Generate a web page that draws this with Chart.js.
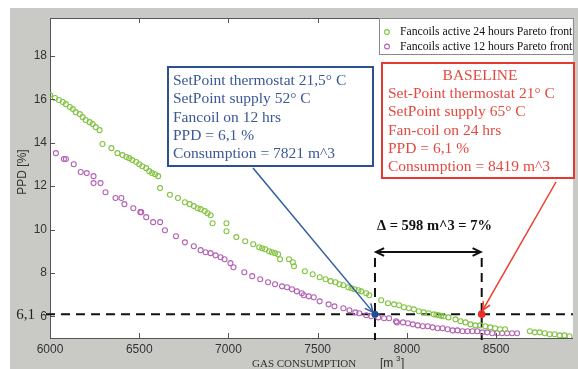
<!DOCTYPE html>
<html>
<head>
<meta charset="utf-8">
<script src="https://cdn.jsdelivr.net/npm/chart.js@4.4.1/dist/chart.umd.min.js"></script>
<style>
  html, body { margin: 0; padding: 0; background: #fff; }
  #wrap { position: relative; width: 578px; height: 369px; }
</style>
</head>
<body>
<div id="wrap"><canvas id="ppd-chart" width="578" height="369"></canvas></div>
<script>
// Pareto fronts, PPD [%] against gas consumption [m3]
const xTicks = [6000, 6500, 7000, 7500, 8000, 8500];
const yTicks = [6, 8, 10, 12, 14, 16, 18];

const gas24 = [6000, 6028, 6050, 6072, 6089, 6111, 6128, 6144, 6167, 6183, 6200, 6222, 6239, 6256, 6278,
  6294, 6344, 6378, 6406, 6428, 6444, 6461, 6483, 6500, 6517, 6539, 6556, 6572, 6589, 6606,
  6617, 6672, 6717, 6756, 6783, 6806, 6828, 6844, 6867, 6883, 6900,
  6911, 6989, 6989, 7044, 7094, 7139, 7172, 7189, 7206, 7228, 7244, 7261, 7278,
  7289, 7339, 7361, 7367, 7428, 7472, 7511, 7544, 7572, 7600, 7622, 7644, 7672, 7689, 7706, 7728, 7744, 7772, 7789,
  7856, 7894, 7928, 7956, 7983, 8011, 8039, 8067, 8094, 8122, 8150, 8165, 8178, 8192, 8206, 8233,
  8272, 8300, 8328, 8356, 8383, 8411, 8439, 8467, 8494, 8522, 8550,
  8689, 8717, 8744, 8772, 8800, 8828, 8856, 8883, 8911];
const ppd24 = [16.2, 16.06, 15.97, 15.88, 15.78, 15.65, 15.55, 15.41, 15.32, 15.18, 15.05, 14.95, 14.86, 14.72, 14.58,
  13.94, 13.75, 13.52, 13.43, 13.34, 13.29, 13.2, 13.11, 13.01, 12.92, 12.83, 12.69, 12.6, 12.55, 12.46,
  11.91, 11.6, 11.45, 11.26, 11.17, 11.08, 10.98, 10.94, 10.85, 10.75, 10.66,
  10.29, 10.29, 9.92, 9.65, 9.46, 9.32, 9.18, 9.14, 9.09, 9.0, 8.95, 8.91, 8.86,
  8.63, 8.63, 8.49, 8.31, 8.08, 7.94, 7.8, 7.71, 7.62, 7.57, 7.48, 7.43, 7.34, 7.29, 7.25, 7.2, 7.15, 7.06, 6.97,
  6.74, 6.6, 6.55, 6.51, 6.42, 6.37, 6.32, 6.23, 6.18, 6.14, 6.09, 6.07, 6.05, 6.02, 6.0, 5.95,
  5.86, 5.77, 5.72, 5.63, 5.58, 5.58, 5.54, 5.49, 5.45, 5.4, 5.4,
  5.31, 5.26, 5.26, 5.22, 5.17, 5.17, 5.12, 5.12, 5.08];

const gas12 = [6033, 6078, 6089, 6133, 6172, 6206, 6244, 6244, 6283, 6311,
  6367, 6400, 6417, 6467, 6506, 6511, 6539, 6578, 6617, 6644,
  6706, 6756, 6806, 6844, 6872, 6900, 6928, 6956, 6978, 7011,
  7028, 7089, 7133, 7178, 7222, 7261, 7300, 7328, 7356, 7383,
  7411, 7422, 7450, 7478, 7511, 7561, 7594, 7644, 7678, 7711,
  7733, 7772, 7800, 7839, 7872, 7900, 7939, 7944, 7978, 8006,
  8033, 8061, 8089, 8117, 8144, 8172, 8200, 8228, 8256, 8283,
  8311, 8339, 8367, 8394, 8422, 8450, 8478, 8506, 8533, 8561, 8589, 8617];
const ppd12 = [13.52, 13.25, 13.25, 13.01, 12.65, 12.6, 12.46, 12.14, 12.14, 11.72,
  11.45, 11.45, 11.17, 10.98, 10.8, 10.8, 10.57, 10.34, 10.34, 9.97,
  9.69, 9.41, 9.23, 9.05, 8.95, 8.91, 8.81, 8.72, 8.63, 8.45,
  8.26, 8.03, 7.85, 7.71, 7.57, 7.48, 7.38, 7.34, 7.25, 7.15,
  7.06, 6.97, 6.92, 6.88, 6.69, 6.55, 6.46, 6.37, 6.28, 6.18,
  6.14, 6.05, 6.0, 5.95, 5.91, 5.91, 5.77, 5.72, 5.72, 5.68,
  5.63, 5.58, 5.54, 5.54, 5.49, 5.45, 5.45, 5.4, 5.35, 5.35,
  5.31, 5.31, 5.31, 5.31, 5.26, 5.26, 5.22, 5.22, 5.22, 5.22, 5.22, 5.22];

const optimum = { gas: 7821, ppd: 6.1 };
const baseline = { gas: 8419, ppd: 6.1 };
const seriesNames = ['Fancoils active 24 hours Pareto front', 'Fancoils active 12 hours Pareto front'];
const blueLines = ['SetPoint thermostat 21,5\u00b0 C', 'SetPoint supply 52\u00b0 C', 'Fancoil on 12 hrs', 'PPD = 6,1 %', 'Consumption = 7821 m^3'];
const redTitle = 'BASELINE';
const redLines = ['Set-Point thermostat 21\u00b0 C', 'SetPoint supply 65\u00b0 C', 'Fan-coil on 24 hrs', 'PPD = 6,1 %', 'Consumption = 8419 m^3'];
const deltaText = '\u0394 = 598 m^3 = 7%';

const GREEN = '#82c341';
const MAGENTA = '#b461b4';
const BLUE = '#2c5090';
const RED = '#e63a30';
const GRAY = '#c9c9c5';
const SERIF = '"Liberation Serif", "Times New Roman", serif';

const toPts = (xs, ys) => xs.map((x, i) => ({ x, y: ys[i] }));

function chevron(ctx, x, y, ang, size) {
  ctx.beginPath();
  ctx.moveTo(x - size * Math.cos(ang - 0.45), y - size * Math.sin(ang - 0.45));
  ctx.lineTo(x, y);
  ctx.lineTo(x - size * Math.cos(ang + 0.45), y - size * Math.sin(ang + 0.45));
  ctx.stroke();
}

function arrow(ctx, x1, y1, x2, y2, color, w) {
  ctx.save();
  ctx.strokeStyle = color;
  ctx.lineWidth = w;
  ctx.beginPath();
  ctx.moveTo(x1, y1);
  ctx.lineTo(x2, y2);
  ctx.stroke();
  chevron(ctx, x2, y2, Math.atan2(y2 - y1, x2 - x1), 9);
  ctx.restore();
}

const figure = {
  id: 'figure',
  beforeDraw(chart) {
    const { ctx, chartArea: a } = chart;
    ctx.save();
    ctx.fillStyle = '#fff';
    ctx.fillRect(0, 0, chart.width, chart.height);
    ctx.fillStyle = GRAY;
    ctx.fillRect(10, 8, chart.width - 10, chart.height - 8);
    ctx.fillStyle = '#fff';
    ctx.fillRect(a.left, a.top, a.right - a.left, a.bottom - a.top);
    ctx.restore();
  },
  beforeDatasetsDraw(chart) {
    const { ctx, chartArea: a, scales } = chart;
    const yRef = scales.y.getPixelForValue(optimum.ppd);
    const xo = scales.x.getPixelForValue(optimum.gas);
    const xb = scales.x.getPixelForValue(baseline.gas);
    ctx.save();
    ctx.strokeStyle = '#111';
    ctx.lineWidth = 2;
    ctx.setLineDash([9, 6]);
    ctx.beginPath();
    ctx.moveTo(a.left - 4, yRef);
    ctx.lineTo(a.right, yRef);
    ctx.stroke();
    [xo, xb].forEach((x) => {
      ctx.beginPath();
      ctx.moveTo(x, 258);
      ctx.lineTo(x, a.bottom + 2);
      ctx.stroke();
    });
    ctx.restore();
  },
  afterDatasetsDraw(chart) {
    const { ctx, chartArea: a, scales } = chart;
    const x = scales.x, y = scales.y;
    ctx.save();
    // frame and inward ticks
    ctx.strokeStyle = '#555';
    ctx.lineWidth = 1;
    ctx.beginPath();
    ctx.moveTo(a.left, a.top + 0.5);
    ctx.lineTo(a.right, a.top + 0.5);
    xTicks.forEach((v) => {
      const px = Math.round(x.getPixelForValue(v)) + 0.5;
      ctx.moveTo(px, a.bottom); ctx.lineTo(px, a.bottom - 5);
      ctx.moveTo(px, a.top); ctx.lineTo(px, a.top + 5);
    });
    yTicks.forEach((v) => {
      const py = Math.round(y.getPixelForValue(v)) + 0.5;
      ctx.moveTo(a.left, py); ctx.lineTo(a.left + 5, py);
    });
    ctx.stroke();

    // legend
    ctx.fillStyle = '#fff';
    ctx.fillRect(379, a.top + 1, a.right - 379, 36);
    ctx.strokeStyle = '#8a8a8a';
    ctx.strokeRect(379.5, a.top + 0.5, a.right - 379, 36);
    ctx.lineWidth = 1.1;
    [GREEN, MAGENTA].forEach((c, i) => {
      ctx.strokeStyle = c;
      ctx.beginPath();
      ctx.arc(387, 32 + i * 14.5, 2.4, 0, Math.PI * 2);
      ctx.stroke();
    });
    ctx.fillStyle = '#111';
    ctx.font = '11.7px ' + SERIF;
    ctx.textBaseline = 'middle';
    ctx.textAlign = 'left';
    seriesNames.forEach((t, i) => ctx.fillText(t, 400, 32 + i * 14.5));

    // blue annotation
    ctx.lineWidth = 2;
    ctx.strokeStyle = BLUE;
    ctx.fillStyle = '#fff';
    ctx.fillRect(168, 67, 205, 99);
    ctx.strokeRect(168, 67, 205, 99);
    ctx.fillStyle = '#3a5896';
    ctx.font = '15.5px ' + SERIF;
    blueLines.forEach((t, i) => ctx.fillText(t, 173, 81 + i * 18.3));

    // red annotation
    ctx.strokeStyle = RED;
    ctx.fillStyle = '#fff';
    ctx.fillRect(382, 63, 192, 115);
    ctx.strokeRect(382, 63, 192, 115);
    ctx.fillStyle = '#e5483f';
    ctx.textAlign = 'center';
    ctx.fillText(redTitle, 480, 76);
    ctx.textAlign = 'left';
    redLines.forEach((t, i) => ctx.fillText(t, 388, 94 + i * 18.3));

    const xo = x.getPixelForValue(optimum.gas);
    const xb = x.getPixelForValue(baseline.gas);
    const yRef = y.getPixelForValue(optimum.ppd);
    arrow(ctx, 253, 168, xo - 2, yRef - 2, '#2d5ca0', 1.5);
    arrow(ctx, 556, 182, xb + 1, yRef - 4, '#ee3a2e', 1.5);

    // delta span
    ctx.strokeStyle = '#111';
    ctx.lineWidth = 2;
    ctx.beginPath();
    ctx.moveTo(xo + 1, 252);
    ctx.lineTo(xb - 1, 252);
    ctx.stroke();
    chevron(ctx, xo + 1, 252, Math.PI, 9);
    chevron(ctx, xb - 1, 252, 0, 9);
    ctx.fillStyle = '#111';
    ctx.font = 'bold 14.5px ' + SERIF;
    ctx.fillText(deltaText, 377, 226);

    // axis texts
    ctx.font = '15px ' + SERIF;
    ctx.textAlign = 'right';
    ctx.fillStyle = '#222';
    ctx.fillText('6,1', 35, 315);
    ctx.font = '11px ' + SERIF;
    ctx.textAlign = 'left';
    ctx.fillStyle = '#333';
    ctx.fillText('GAS CONSUMPTION', 252, 364);
    ctx.font = '12px "Liberation Sans", Arial, sans-serif';
    ctx.fillText('[m', 380, 364);
    ctx.font = '8px "Liberation Sans", Arial, sans-serif';
    ctx.fillText('3', 396, 359);
    ctx.font = '12px "Liberation Sans", Arial, sans-serif';
    ctx.fillText(']', 401, 364);
    ctx.translate(23, 172);
    ctx.rotate(-Math.PI / 2);
    ctx.textAlign = 'center';
    ctx.fillText('PPD [%]', 0, 0);
    ctx.restore();
  }
};

Chart.defaults.font.family = '"Liberation Sans", Arial, sans-serif';
Chart.defaults.font.size = 12;
Chart.defaults.color = '#333';

new Chart(document.getElementById('ppd-chart'), {
  type: 'scatter',
  data: {
    datasets: [
      { label: 'optimum', data: [{ x: optimum.gas, y: optimum.ppd }], pointRadius: 3.5, backgroundColor: '#1f4e8c', borderColor: '#1f4e8c', borderWidth: 0 },
      { label: 'baseline', data: [{ x: baseline.gas, y: baseline.ppd }], pointRadius: 3.8, backgroundColor: '#e8302a', borderColor: '#e8302a', borderWidth: 0 },
      { label: seriesNames[0], data: toPts(gas24, ppd24), pointRadius: 2.5, borderWidth: 1.1, borderColor: GREEN, backgroundColor: 'rgba(0,0,0,0)' },
      { label: seriesNames[1], data: toPts(gas12, ppd12), pointRadius: 2.5, borderWidth: 1.1, borderColor: MAGENTA, backgroundColor: 'rgba(0,0,0,0)' }
    ]
  },
  options: {
    responsive: false,
    animation: false,
    layout: { padding: { left: 0, top: 18, right: 0, bottom: 0 } },
    plugins: { legend: { display: false }, tooltip: { enabled: false } },
    scales: {
      x: {
        type: 'linear', min: 6000, max: 8930,
        afterBuildTicks: (s) => { s.ticks = xTicks.map((v) => ({ value: v })); },
        afterFit: (s) => { s.height = 31; },
        grid: { display: false, drawTicks: false },
        border: { display: true, color: '#555', width: 1 },
        ticks: { padding: 4, maxRotation: 0, autoSkip: false, callback: (v) => String(v) }
      },
      y: {
        type: 'linear', min: 5, max: 19.75,
        afterBuildTicks: (s) => { s.ticks = yTicks.map((v) => ({ value: v })); },
        afterFit: (s) => { s.width = 50; },
        grid: { display: false, drawTicks: false },
        border: { display: true, color: '#555', width: 1 },
        ticks: { padding: 3, autoSkip: false, callback: (v) => String(v) }
      }
    }
  },
  plugins: [figure]
});
</script>
</body>
</html>
